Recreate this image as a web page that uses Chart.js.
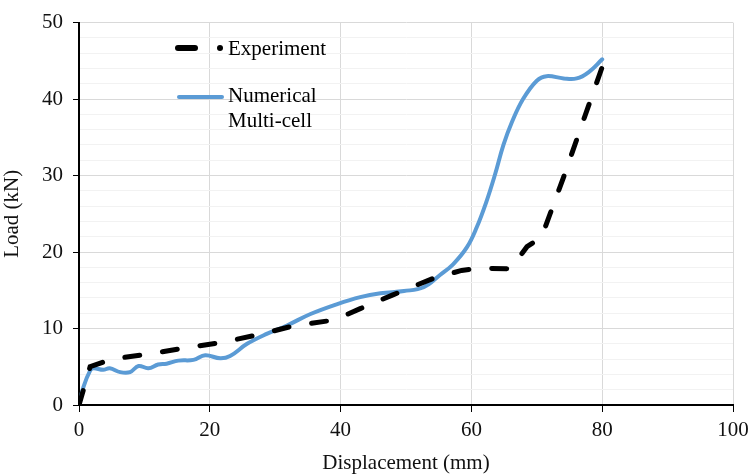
<!DOCTYPE html>
<html>
<head>
<meta charset="utf-8">
<script src="https://cdn.jsdelivr.net/npm/chart.js@4.4.1/dist/chart.umd.min.js"></script>
<style>
  body { margin: 0; background: #fff; }
  #wrap { position: relative; width: 748px; height: 476px; }
  #myChart { position: absolute; left: 0; top: 0; }
  .leg { position: absolute; font-family: "Liberation Serif", "Times New Roman", serif; font-size: 21px; color: #000; line-height: 25px; }
  .dash { position: absolute; height: 6px; border-radius: 3px; background: #000; }
  .dot { position: absolute; width: 6px; height: 6px; border-radius: 3px; background: #000; }
  .solid { position: absolute; height: 4px; border-radius: 2px; background: #5b9bd5; }
</style>
</head>
<body>
<div id="wrap">
  <canvas id="myChart" width="748" height="476"></canvas>
  <div class="dash" style="left:175px; top:45px; width:23px;"></div>
  <div class="dot" style="left:217px; top:45px;"></div>
  <div class="leg" style="left:228px; top:36px;">Experiment</div>
  <div class="solid" style="left:177px; top:95px; width:47px;"></div>
  <div class="leg" style="left:228px; top:83px;">Numerical<br>Multi-cell</div>
</div>
<script>
// Experiment curve (dashed)
const expX = [0, 1.7, 5, 11, 16.5, 22, 28, 33, 39, 43, 48, 54, 58.5, 61.3, 66, 68.5, 70.7, 74.1, 77.2, 80];
const expY = [0, 5, 6, 6.7, 7.5, 8.2, 9.3, 10.4, 11.1, 12.6, 14.4, 16.5, 17.6, 17.9, 17.8, 20.7, 21.9, 29.8, 37.4, 44.2];

// Numerical multi-cell curve
const numX = [0, 0.7, 1.7, 2.2, 3.7, 4.7, 6.3, 7.8, 9.1, 10.6, 12.1, 13.4, 15.2, 17.5, 19.3, 21.6, 23.1, 25.7, 28.7, 31.8, 35.4, 39.5, 43, 46.1, 49.7, 52.7, 55.2, 57.2, 59.3, 60.8, 62.3, 63.6, 64.9, 66.2, 67.9, 70, 71.5, 74.1, 76.1, 77.9, 80];
const numY = [0, 2.4, 4.5, 4.8, 4.6, 4.8, 4.3, 4.3, 5.1, 4.8, 5.3, 5.4, 5.8, 5.9, 6.5, 6.1, 6.4, 8.0, 9.3, 10.4, 11.9, 13.2, 14.1, 14.6, 14.9, 15.4, 17.0, 18.4, 20.6, 23.2, 26.6, 30.1, 34.0, 37.0, 40.0, 42.4, 43.0, 42.7, 42.7, 43.5, 45.2];

const xMin = 0, xMax = 100, xStep = 20;
const yMin = 0, yMax = 50, yMinorStep = 2, yMajorStep = 10;

const toPoints = (xs, ys) => xs.map((x, i) => ({ x: x, y: ys[i] }));
const serif = { family: '"Liberation Serif", "Times New Roman", serif', size: 21 };

new Chart(document.getElementById('myChart').getContext('2d'), {
    type: 'line',
    data: {
        datasets: [
            {
                label: 'Experiment',
                data: toPoints(expX, expY),
                borderColor: '#000',
                borderWidth: 5,
                borderDash: [15, 23],
                borderCapStyle: 'round',
                pointRadius: 0,
                tension: 0
            },
            {
                label: 'Numerical Multi-cell',
                data: toPoints(numX, numY),
                borderColor: '#5b9bd5',
                borderWidth: 4,
                borderCapStyle: 'round',
                borderJoinStyle: 'round',
                pointRadius: 0,
                tension: 0.4
            }
        ]
    },
    options: {
        responsive: false,
        animation: false,
        layout: { padding: { top: 20, right: 0, bottom: 0, left: 0 } },
        plugins: { legend: { display: false }, tooltip: { enabled: false } },
        scales: {
            x: {
                type: 'linear',
                min: xMin,
                max: xMax,
                afterFit: s => { s.height = 71; s.paddingRight = 15; },
                ticks: { stepSize: xStep, color: '#111', font: serif, padding: 6, maxRotation: 0 },
                grid: { color: '#d9d9d9', tickColor: '#000', tickLength: 7, lineWidth: 1 },
                border: { color: '#000', width: 2 },
                title: { display: true, text: 'Displacement (mm)', color: '#111', font: serif, padding: { top: 0, bottom: 0 } }
            },
            y: {
                min: yMin,
                max: yMax,
                afterFit: s => { s.width = 79; },
                ticks: {
                    stepSize: yMinorStep,
                    autoSkip: false,
                    color: '#111',
                    font: serif,
                    padding: 10,
                    callback: v => (v % yMajorStep === 0 ? v : '')
                },
                grid: {
                    color: c => (c.tick && c.tick.value % yMajorStep === 0 ? '#d9d9d9' : '#f2f2f2'),
                    tickColor: c => (c.tick && c.tick.value % yMajorStep === 0 ? '#000' : 'rgba(0,0,0,0)'),
                    tickLength: 6,
                    lineWidth: 1
                },
                border: { color: '#000', width: 2 },
                title: { display: true, text: 'Load (kN)', color: '#111', font: serif, padding: { top: 0, bottom: 10 } }
            }
        }
    }
});
</script>
</body>
</html>
